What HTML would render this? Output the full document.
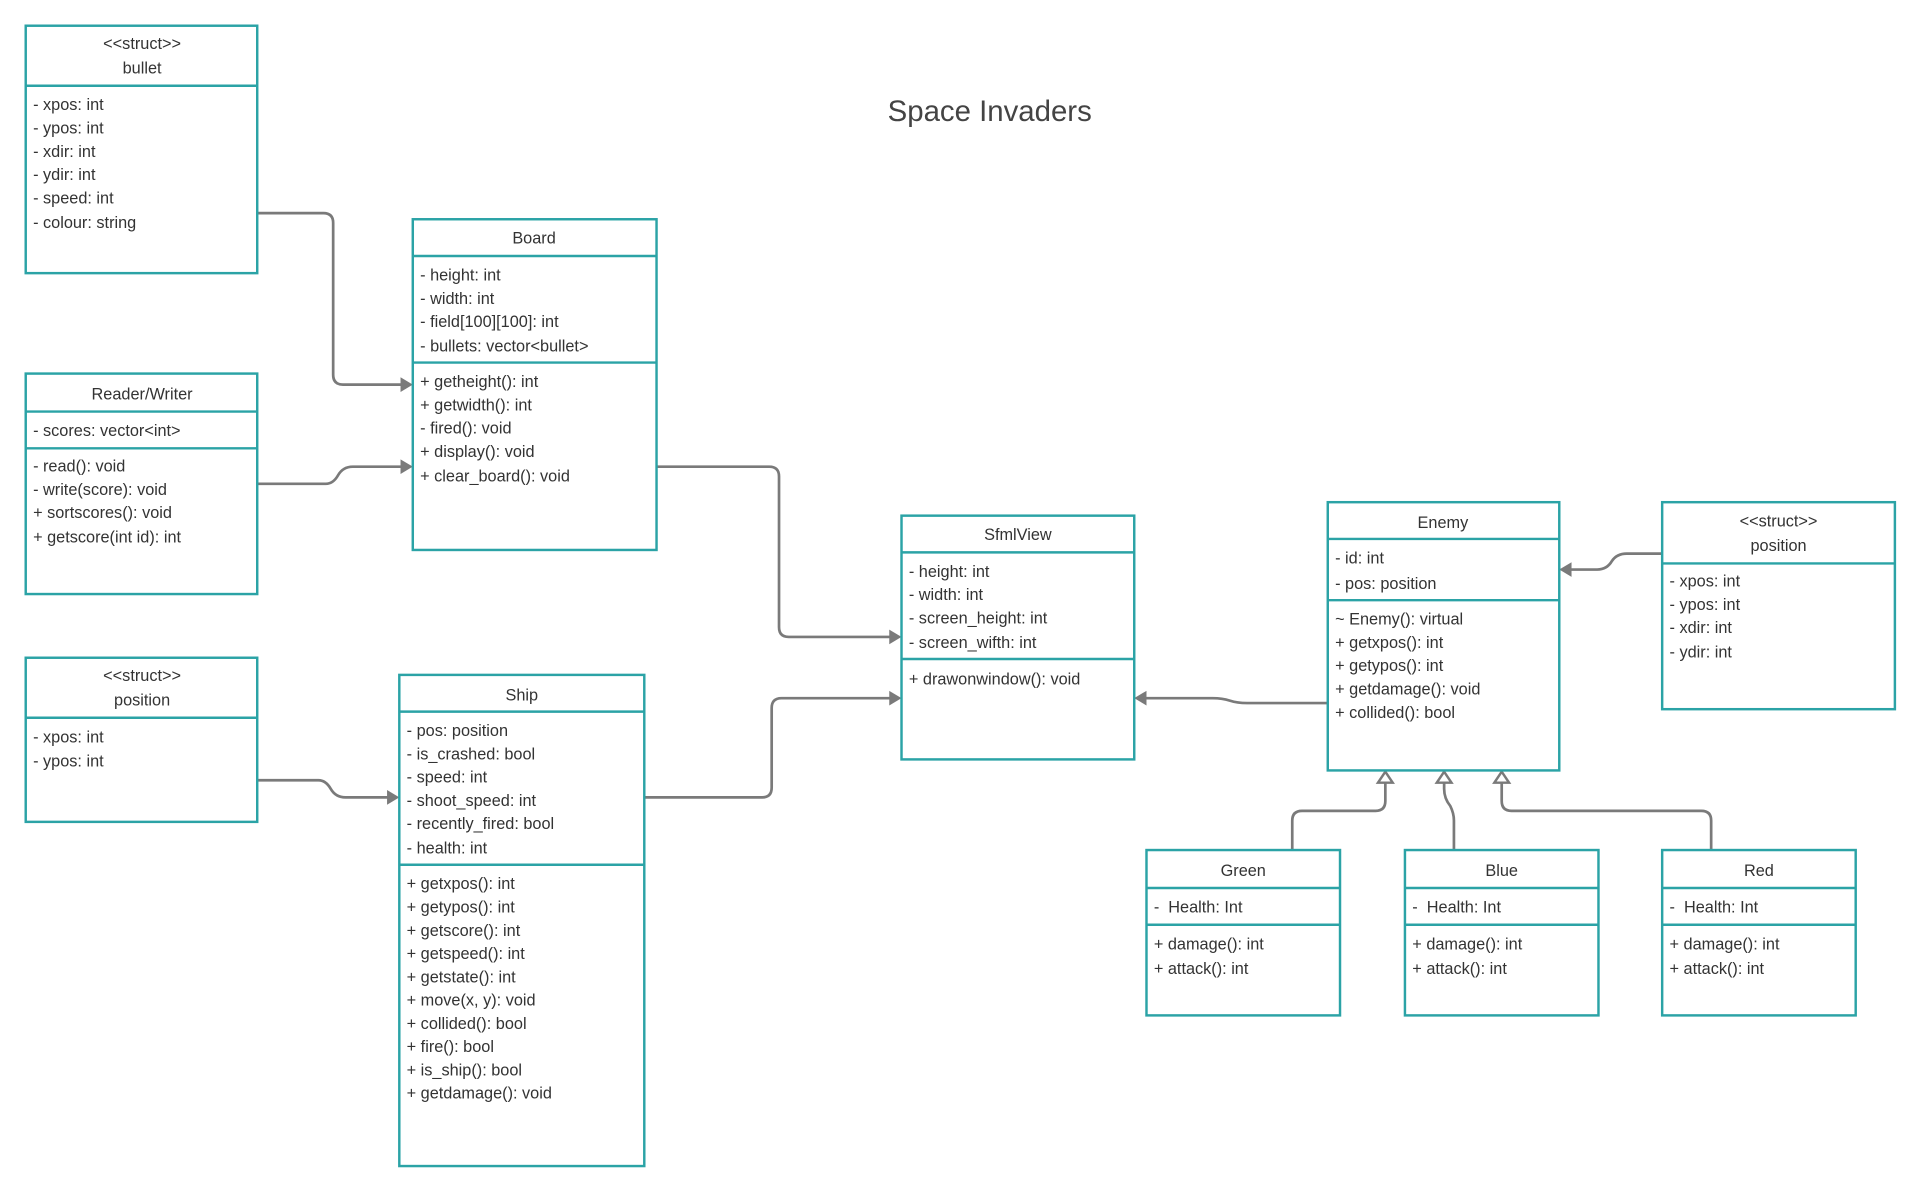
<!DOCTYPE html>
<html><head><meta charset="utf-8"><style>
html,body{margin:0;padding:0;background:#fff;}
svg{display:block;}
text{font-family:"Liberation Sans",sans-serif;fill:#333;font-size:13.3px;}
.c{text-anchor:middle;}
.box{fill:#fff;stroke:#2ba3a6;stroke-width:2;}
.ln{stroke:#2ba3a6;stroke-width:2;}
.w{fill:none;stroke:#7a7a7a;stroke-width:2.2;}
.ah{fill:#7a7a7a;}
.tri{fill:#fff;stroke:#7a7a7a;stroke-width:2;}
</style></head><body>
<svg width="1920" height="1193" viewBox="0 0 1567.5 974" preserveAspectRatio="none" xmlns="http://www.w3.org/2000/svg">
<text x="808" y="99" class="c" style="font-size:24px;fill:#444">Space Invaders</text>

<path class="w" d="M210 174 H264 Q272 174 272 182 V306 Q272 314 280 314 H328"/>
<polygon class="ah" points="337,314 327,308 327,320"/>
<path class="w" d="M210 395 H266 Q272 395 276 388 Q280 381 288 381 H328"/>
<polygon class="ah" points="337,381 327,375 327,387"/>
<path class="w" d="M536 381 H628 Q636 381 636 389 V512 Q636 520 644 520 H727"/>
<polygon class="ah" points="736,520 726,514 726,526"/>
<path class="w" d="M210 637 H260 Q266 637 270 644 Q274 651 282 651 H317"/>
<polygon class="ah" points="326,651 316,645 316,657"/>
<path class="w" d="M526 651 H622 Q630 651 630 643 V578 Q630 570 638 570 H727"/>
<polygon class="ah" points="736,570 726,564 726,576"/>
<path class="w" d="M1084 574 H1018 Q1010 574 1004 572 Q998 570 990 570 H935"/>
<polygon class="ah" points="926,570 936,564 936,576"/>
<path class="w" d="M1357 452 H1328 Q1320 452 1316 458 Q1312 465 1304 465 H1282"/>
<polygon class="ah" points="1273,465 1283,459 1283,471"/>
<path class="w" d="M1055 694 V670 Q1055 662 1063 662 H1123 Q1131 662 1131 654 V639"/>
<polygon class="tri" points="1131,630 1125,639 1137,639"/>
<path class="w" d="M1187 694 V670 Q1187 664 1184 658 Q1179 652 1179 644 V639"/>
<polygon class="tri" points="1179,630 1173,639 1185,639"/>
<path class="w" d="M1397 694 V670 Q1397 662 1389 662 H1234 Q1226 662 1226 654 V639"/>
<polygon class="tri" points="1226,630 1220,639 1232,639"/>

<rect class="box" x="21" y="21" width="189" height="202"/>
<line class="ln" x1="21" y1="70" x2="210" y2="70"/>
<text x="116" y="40" class="c">&lt;&lt;struct&gt;&gt;</text>
<text x="116" y="60" class="c">bullet</text>
<text x="27" y="90">- xpos: int</text>
<text x="27" y="109">- ypos: int</text>
<text x="27" y="128">- xdir: int</text>
<text x="27" y="147">- ydir: int</text>
<text x="27" y="166">- speed: int</text>
<text x="27" y="186">- colour: string</text>

<rect class="box" x="21" y="305" width="189" height="180"/>
<line class="ln" x1="21" y1="336" x2="210" y2="336"/>
<line class="ln" x1="21" y1="366" x2="210" y2="366"/>
<text x="116" y="326" class="c">Reader/Writer</text>
<text x="27" y="356">- scores: vector&lt;int&gt;</text>
<text x="27" y="385">- read(): void</text>
<text x="27" y="404">- write(score): void</text>
<text x="27" y="423">+ sortscores(): void</text>
<text x="27" y="443">+ getscore(int id): int</text>

<rect class="box" x="21" y="537" width="189" height="134"/>
<line class="ln" x1="21" y1="586" x2="210" y2="586"/>
<text x="116" y="556" class="c">&lt;&lt;struct&gt;&gt;</text>
<text x="116" y="576" class="c">position</text>
<text x="27" y="606">- xpos: int</text>
<text x="27" y="626">- ypos: int</text>

<rect class="box" x="337" y="179" width="199" height="270"/>
<line class="ln" x1="337" y1="209" x2="536" y2="209"/>
<line class="ln" x1="337" y1="296" x2="536" y2="296"/>
<text x="436" y="199" class="c">Board</text>
<text x="343" y="229">- height: int</text>
<text x="343" y="248">- width: int</text>
<text x="343" y="267">- field[100][100]: int</text>
<text x="343" y="287">- bullets: vector&lt;bullet&gt;</text>
<text x="343" y="316">+ getheight(): int</text>
<text x="343" y="335">+ getwidth(): int</text>
<text x="343" y="354">- fired(): void</text>
<text x="343" y="373">+ display(): void</text>
<text x="343" y="393">+ clear_board(): void</text>

<rect class="box" x="326" y="551" width="200" height="401"/>
<line class="ln" x1="326" y1="581" x2="526" y2="581"/>
<line class="ln" x1="326" y1="706" x2="526" y2="706"/>
<text x="426" y="572" class="c">Ship</text>
<text x="332" y="601">- pos: position</text>
<text x="332" y="620">- is_crashed: bool</text>
<text x="332" y="639">- speed: int</text>
<text x="332" y="658">- shoot_speed: int</text>
<text x="332" y="677">- recently_fired: bool</text>
<text x="332" y="697">- health: int</text>
<text x="332" y="726">+ getxpos(): int</text>
<text x="332" y="745">+ getypos(): int</text>
<text x="332" y="764">+ getscore(): int</text>
<text x="332" y="783">+ getspeed(): int</text>
<text x="332" y="802">+ getstate(): int</text>
<text x="332" y="821">+ move(x, y): void</text>
<text x="332" y="840">+ collided(): bool</text>
<text x="332" y="859">+ fire(): bool</text>
<text x="332" y="878">+ is_ship(): bool</text>
<text x="332" y="897">+ getdamage(): void</text>

<rect class="box" x="736" y="421" width="190" height="199"/>
<line class="ln" x1="736" y1="451" x2="926" y2="451"/>
<line class="ln" x1="736" y1="538" x2="926" y2="538"/>
<text x="831" y="441" class="c">SfmlView</text>
<text x="742" y="471">- height: int</text>
<text x="742" y="490">- width: int</text>
<text x="742" y="509">- screen_height: int</text>
<text x="742" y="529">- screen_wifth: int</text>
<text x="742" y="559">+ drawonwindow(): void</text>

<rect class="box" x="1084" y="410" width="189" height="219"/>
<line class="ln" x1="1084" y1="440" x2="1273" y2="440"/>
<line class="ln" x1="1084" y1="490" x2="1273" y2="490"/>
<text x="1178" y="431" class="c">Enemy</text>
<text x="1090" y="460">- id: int</text>
<text x="1090" y="481">- pos: position</text>
<text x="1090" y="510">~ Enemy(): virtual</text>
<text x="1090" y="529">+ getxpos(): int</text>
<text x="1090" y="548">+ getypos(): int</text>
<text x="1090" y="567">+ getdamage(): void</text>
<text x="1090" y="586">+ collided(): bool</text>

<rect class="box" x="1357" y="410" width="190" height="169"/>
<line class="ln" x1="1357" y1="460" x2="1547" y2="460"/>
<text x="1452" y="430" class="c">&lt;&lt;struct&gt;&gt;</text>
<text x="1452" y="450" class="c">position</text>
<text x="1363" y="479">- xpos: int</text>
<text x="1363" y="498">- ypos: int</text>
<text x="1363" y="517">- xdir: int</text>
<text x="1363" y="537">- ydir: int</text>

<rect class="box" x="936" y="694" width="158" height="135"/>
<line class="ln" x1="936" y1="725" x2="1094" y2="725"/>
<line class="ln" x1="936" y1="755" x2="1094" y2="755"/>
<text x="1015" y="715" class="c">Green</text>
<text x="942" y="745">-&#160;&#160;Health: Int</text>
<text x="942" y="775">+ damage(): int</text>
<text x="942" y="795">+ attack(): int</text>

<rect class="box" x="1147" y="694" width="158" height="135"/>
<line class="ln" x1="1147" y1="725" x2="1305" y2="725"/>
<line class="ln" x1="1147" y1="755" x2="1305" y2="755"/>
<text x="1226" y="715" class="c">Blue</text>
<text x="1153" y="745">-&#160;&#160;Health: Int</text>
<text x="1153" y="775">+ damage(): int</text>
<text x="1153" y="795">+ attack(): int</text>

<rect class="box" x="1357" y="694" width="158" height="135"/>
<line class="ln" x1="1357" y1="725" x2="1515" y2="725"/>
<line class="ln" x1="1357" y1="755" x2="1515" y2="755"/>
<text x="1436" y="715" class="c">Red</text>
<text x="1363" y="745">-&#160;&#160;Health: Int</text>
<text x="1363" y="775">+ damage(): int</text>
<text x="1363" y="795">+ attack(): int</text>
</svg>
</body></html>
